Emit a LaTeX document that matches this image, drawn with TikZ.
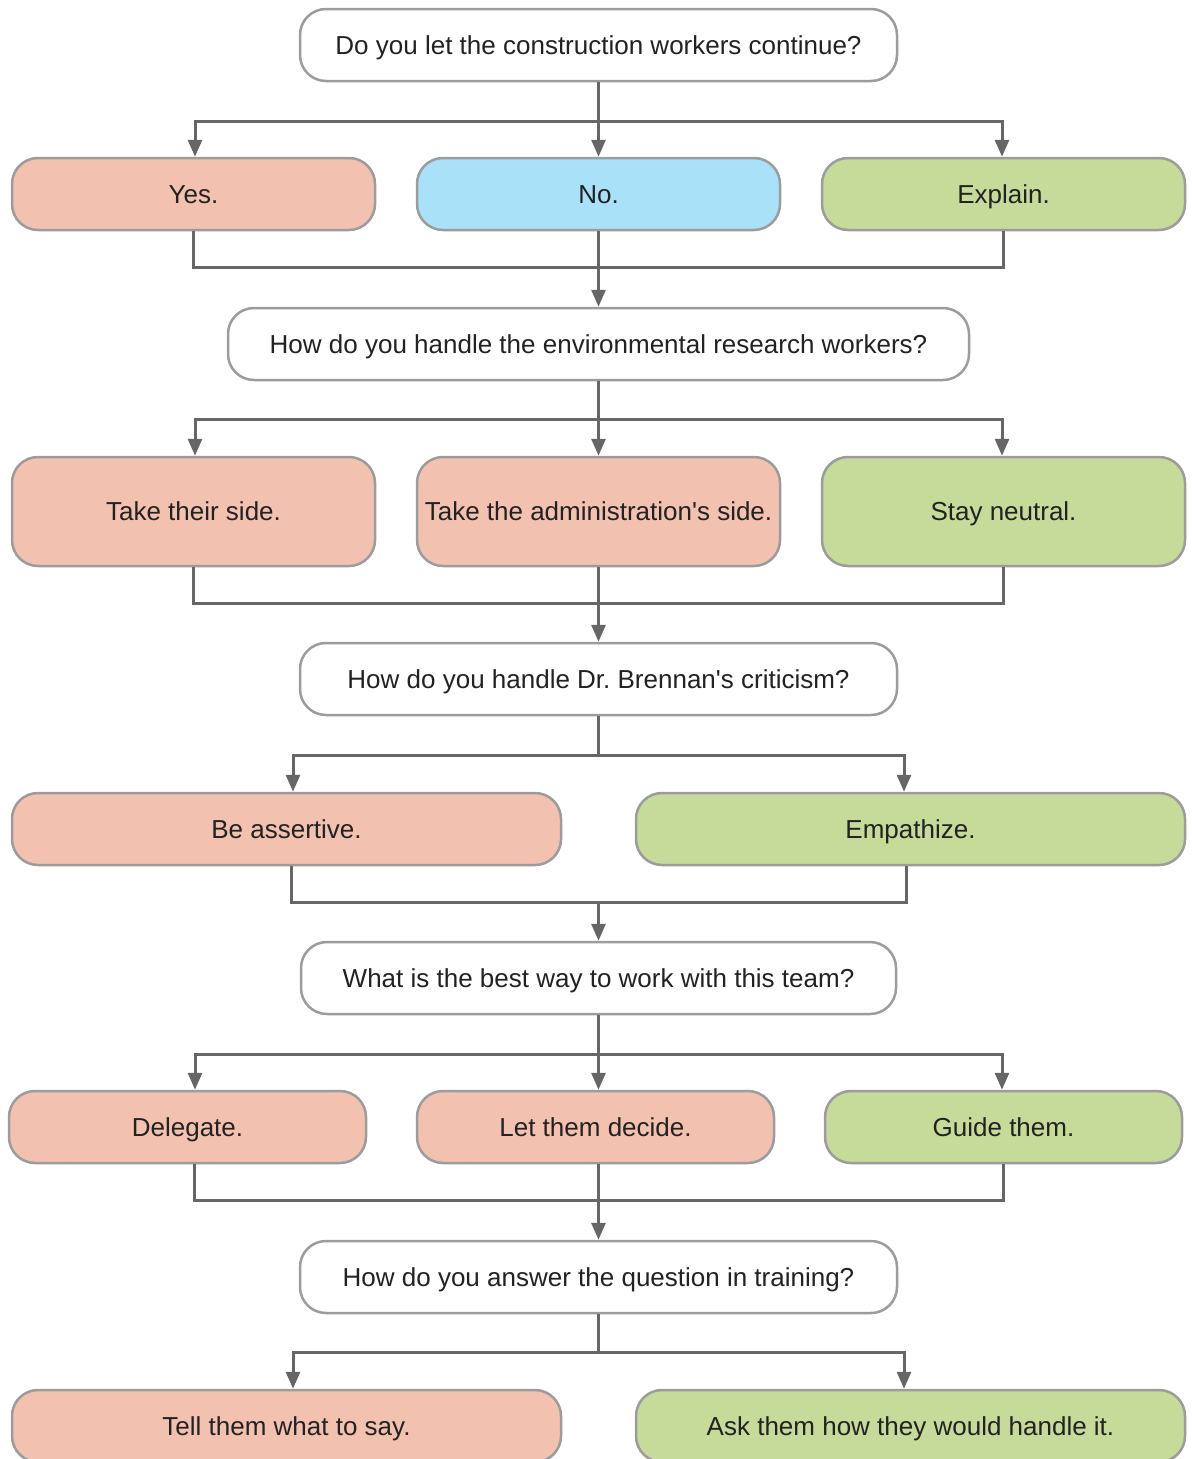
\documentclass[tikz,border=0pt]{standalone}
\usepackage{fontspec}
\setmainfont{Liberation Sans}
\usetikzlibrary{arrows.meta}
\definecolor{salmon}{HTML}{F3C1AF}
\definecolor{skyb}{HTML}{A8E1F8}
\definecolor{leaf}{HTML}{C6DA99}
\definecolor{bord}{HTML}{9C9C9C}
\definecolor{conn}{HTML}{666666}
\definecolor{txt}{HTML}{222222}
\frenchspacing
\begin{document}
\begin{tikzpicture}[x=1pt,y=-1pt,
  box/.style={draw=bord,line width=2.5pt,rounded corners=26pt,minimum height=72pt,inner sep=0pt,
    text height=24pt,text depth=5.5pt,
    font=\fontsize{26}{30}\selectfont,text=txt},
  qbox/.style={box,fill=white},
  sal/.style={box,fill=salmon},
  blu/.style={box,fill=skyb},
  grn/.style={box,fill=leaf},
  arr/.style={draw=conn,line width=3pt,-{Triangle[length=17pt,width=14pt]}},
  ln/.style={draw=conn,line width=3pt}]
\useasboundingbox (0,0) rectangle (1193,1459);
\clip (0,0) rectangle (1193,1459);
% questions
\node[qbox,minimum width=597pt] (q1) at (598.5,45) {Do you let the construction workers continue?};
\node[sal,minimum width=363pt] (yes) at (193.5,194) {Yes.};
\node[blu,minimum width=363pt] (no) at (598.5,194) {No.};
\node[grn,minimum width=363pt] (expl) at (1003.5,194) {Explain.};
\node[qbox,minimum width=741pt] (q2) at (598.5,344) {How do you handle the environmental research workers?};
\node[sal,minimum width=363pt,minimum height=109pt] (their) at (193.5,511.5) {Take their side.};
\node[sal,minimum width=363pt,minimum height=109pt] (admin) at (598.5,511.5) {Take the administration\textquotesingle s side.};
\node[grn,minimum width=363pt,minimum height=109pt] (neut) at (1003.5,511.5) {Stay neutral.};
\node[qbox,minimum width=597pt] (q3) at (598.5,679) {How do you handle Dr. Brennan\textquotesingle s criticism?};
\node[sal,minimum width=549pt] (assert) at (286.5,829) {Be assertive.};
\node[grn,minimum width=549pt] (emp) at (910.5,829) {Empathize.};
\node[qbox,minimum width=595pt] (q4) at (598.5,978) {What is the best way to work with this team?};
\node[sal,minimum width=357pt] (deleg) at (187.5,1127) {Delegate.};
\node[sal,minimum width=357pt] (decide) at (595.5,1127) {Let them decide.};
\node[grn,minimum width=357pt] (guide) at (1003.5,1127) {Guide them.};
\node[qbox,minimum width=597pt] (q5) at (598.5,1277) {How do you answer the question in training?};
\node[sal,minimum width=549pt] (tell) at (286.5,1426) {Tell them what to say.};
\node[grn,minimum width=549pt] (ask) at (910.5,1426) {Ask them how they would handle it.};
% branch / merge coordinates
\coordinate (b1) at (598.5,121);
\coordinate (m1) at (598.5,267);
\coordinate (b2) at (598.5,419);
\coordinate (m2) at (598.5,603);
\coordinate (b3) at (598.5,755);
\coordinate (m3) at (598.5,902);
\coordinate (b4) at (598.5,1054);
\coordinate (m4) at (598.5,1200);
\coordinate (b5) at (598.5,1352);
% Q1 branches
\draw[ln] (q1.south) -- (b1);
\draw[arr] (b1) -| ([xshift=1.5pt]yes.north);
\draw[arr] (b1) -- (no.north);
\draw[arr] (b1) -| ([xshift=-1.5pt]expl.north);
\draw[ln] (yes.south) |- (m1) -| (expl.south);
\draw[arr] (no.south) -- (q2.north);
% Q2 branches
\draw[ln] (q2.south) -- (b2);
\draw[arr] (b2) -| ([xshift=1.5pt]their.north);
\draw[arr] (b2) -- (admin.north);
\draw[arr] (b2) -| ([xshift=-1.5pt]neut.north);
\draw[ln] (their.south) |- (m2) -| (neut.south);
\draw[arr] (admin.south) -- (q3.north);
% Q3 branches
\draw[ln] (q3.south) -- (b3);
\draw[arr] (b3) -| ([xshift=6.5pt]assert.north);
\draw[arr] (b3) -| ([xshift=-6.5pt]emp.north);
\draw[ln] ([xshift=4.5pt]assert.south) |- (m3) -| ([xshift=-4.5pt]emp.south);
\draw[arr] (m3) -- (q4.north);
% Q4 branches
\draw[ln] (q4.south) -- (b4);
\draw[arr] (b4) -| ([xshift=7.5pt]deleg.north);
\draw[arr] (b4) -- (b4 |- decide.north);
\draw[arr] (b4) -| ([xshift=-1.5pt]guide.north);
\draw[ln] ([xshift=6.5pt]deleg.south) |- (m4) -| (guide.south);
\draw[ln] (decide.south -| m4) -- (m4);
\draw[arr] (m4) -- (q5.north);
% Q5 branches
\draw[ln] (q5.south) -- (b5);
\draw[arr] (b5) -| ([xshift=6.5pt]tell.north);
\draw[arr] (b5) -| ([xshift=-6.5pt]ask.north);
\end{tikzpicture}
\end{document}
